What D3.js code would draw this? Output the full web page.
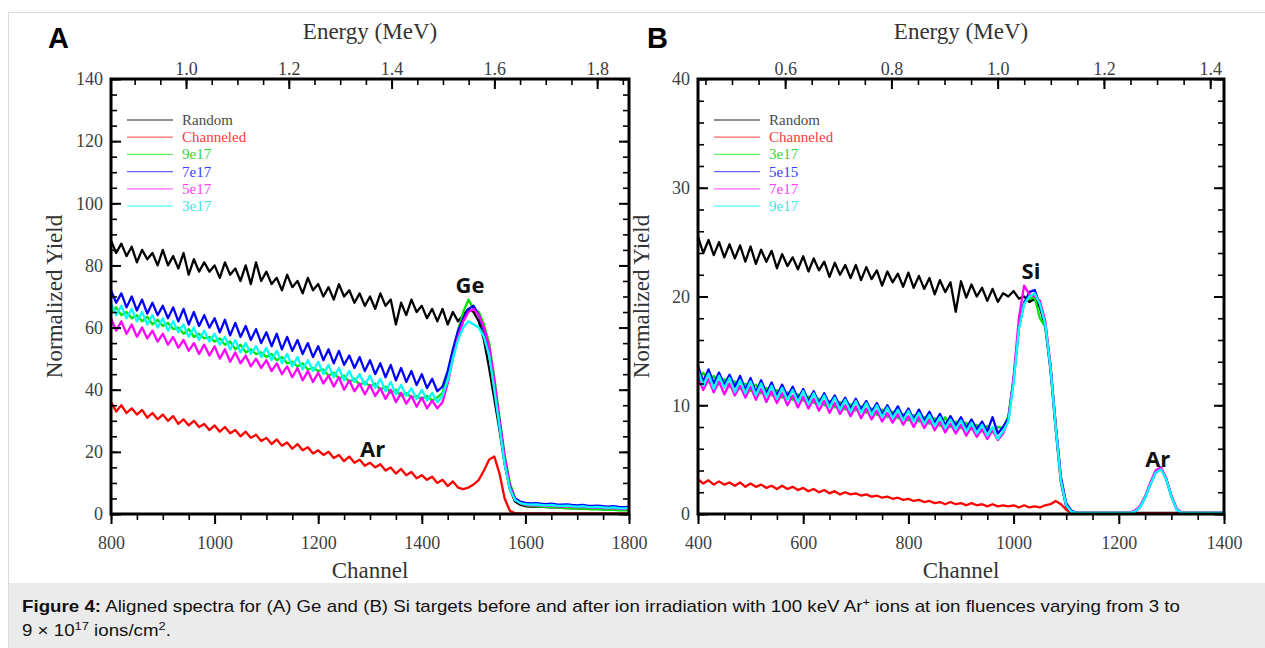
<!DOCTYPE html>
<html>
<head>
<meta charset="utf-8">
<script src="https://cdn.jsdelivr.net/npm/d3@7"></script>
<style>
  html, body { margin: 0; padding: 0; background: #fff; }
  svg { display: block; }
</style>
</head>
<body>
<svg id="fig" width="1265" height="648"></svg>
<script>
// ---- Panel A (Ge target): channels 800..1800, one value every 10 channels ----
const chStartA = 800, chStepA = 10;
const randomA = [
  88, 84, 87, 83, 86, 81, 85, 82, 84, 80,
  85, 80, 83, 79, 84, 77, 82, 78, 81, 78,
  80, 76, 81, 77, 79, 75, 80, 74, 81, 75,
  78, 74, 76, 72, 77, 73, 75, 71, 76, 72,
  74, 70, 73, 69, 74, 70, 72, 68, 71, 67,
  70, 66, 71, 67, 69, 61, 68, 64, 69, 65,
  67, 63, 66, 62, 66, 61, 65, 62, 64, 66,
  65, 62, 56, 47, 37, 27, 16, 8, 4, 3,
  2.5, 2.4, 2.3, 2.4, 2.2, 2.1, 2.2, 2.0, 1.9, 2.0,
  1.8, 1.9, 1.7, 1.8, 1.7, 1.6, 1.7, 1.5, 1.6, 1.5, 1.4];
const channeledA = [
  36, 33, 35, 32.5, 34, 32, 33.5, 31, 32.5, 30.5,
  32, 30, 31.5, 29, 30.5, 28.5, 30, 28, 29, 27,
  28.5, 26.5, 28, 26, 27, 25, 26.5, 24.5, 25.5, 23.5,
  24.5, 22.5, 24, 22, 23, 21, 22.5, 20.5, 21.5, 19.5,
  20.5, 19, 20, 18, 19, 17, 18.5, 16.5, 17.5, 15.5,
  16.5, 15, 16, 14, 15, 13, 14.5, 12.5, 13.5, 11.5,
  12.5, 11, 12, 10, 11, 9, 10.5, 8.5, 8, 8.5,
  9.5, 11, 14, 17.5, 18.5, 13, 5, 1, 0.2, 0.2,
  0.2, 0.2, 0.2, 0.2, 0.2, 0.2, 0.2, 0.2, 0.2, 0.2,
  0.2, 0.2, 0.2, 0.2, 0.2, 0.2, 0.2, 0.2, 0.2, 0.2, 0.2];
const ge9e17 = [
  65, 66.5, 64, 65, 63, 64, 62, 63.5, 61, 62.5,
  60.5, 61.5, 59.5, 60, 58, 59.5, 57, 58, 56.5, 57,
  55.5, 56.5, 54.5, 55.5, 53, 54.5, 52, 53, 51.5, 52,
  50.5, 51.5, 49.5, 50.5, 48.5, 49, 47.5, 48.5, 46.5, 47,
  46, 46.5, 44.5, 45.5, 43.5, 44.5, 42.5, 43.5, 41.5, 42.5,
  41, 42, 40, 41, 39, 40, 38, 39, 37.5, 38,
  37, 38, 36.5, 37.5, 39, 45, 52, 59, 65, 69,
  66, 65, 61, 55, 44, 31, 19, 10, 5, 3.5,
  2.8, 2.6, 2.5, 2.4, 2.3, 2.2, 2.1, 2.0, 1.9, 1.8,
  1.7, 1.7, 1.6, 1.5, 1.5, 1.4, 1.3, 1.3, 1.2, 1.2, 1.1];
const ge7e17 = [
  72, 68, 71, 66.5, 70, 65.5, 69, 64.5, 68, 64,
  67, 63, 66.5, 62, 66, 61, 65, 60.5, 64, 60,
  63, 58.5, 62.5, 57.5, 61.5, 57, 60.5, 56, 59.5, 55,
  58.5, 54, 58, 53, 57, 52.5, 56, 51.5, 55, 50.5,
  54, 49.5, 53, 48.5, 52.5, 48, 51, 47, 50.5, 46,
  49.5, 45, 48.5, 44, 48, 43, 47, 42.5, 46, 41.5,
  45, 40.5, 43.5, 39.5, 41, 46, 53, 59, 63, 66,
  67, 64, 59, 53, 42, 30, 18, 9, 5, 4,
  3.6, 3.4, 3.5, 3.3, 3.2, 3.3, 3.1, 3.0, 3.1, 2.9,
  2.8, 2.9, 2.7, 2.6, 2.7, 2.5, 2.4, 2.5, 2.3, 2.2, 2.3];
const ge5e17 = [
  63, 59, 62, 58, 61, 57, 60, 56.5, 59, 55.5,
  58, 54.5, 57, 53.5, 56, 52.5, 55, 51.5, 54.5, 51,
  54, 50, 53, 49, 52, 48.5, 51, 47.5, 50, 47,
  49.5, 46, 48.5, 45, 47.5, 44, 47, 43, 46, 42.5,
  45.5, 42, 44.5, 41, 44, 40, 43, 39.5, 42, 38.5,
  41.5, 38, 40.5, 37, 40, 36, 39, 35.5, 38, 34.5,
  37.5, 34, 36.5, 34, 36, 42, 50, 57, 62, 65,
  66, 64, 60, 54, 43, 30, 18, 9, 4.5, 3.5,
  3.0, 2.8, 2.9, 2.7, 2.6, 2.7, 2.5, 2.4, 2.5, 2.3,
  2.2, 2.3, 2.1, 2.0, 2.1, 1.9, 1.8, 1.9, 1.7, 1.6, 1.7];
const ge3e17 = [
  68, 64, 67, 63, 66, 62, 65, 61, 64, 60,
  63, 59, 62, 58.5, 61, 57, 60, 56, 59, 55.5,
  58, 54.5, 57, 53, 56, 52, 55, 51.5, 54, 50.5,
  53.5, 49.5, 52.5, 48.5, 51.5, 47.5, 50.5, 46.5, 49.5, 46,
  49, 45, 48, 44, 47, 43, 46, 42.5, 45, 41.5,
  44.5, 40.5, 43.5, 39.5, 42.5, 38.5, 41.5, 38, 40.5, 37,
  40, 36.5, 39, 36, 38, 43, 50, 56, 60, 62,
  61, 60, 57, 51, 40, 28, 16, 8, 4.5, 3.5,
  3.2, 3.0, 3.1, 2.9, 2.8, 2.9, 2.7, 2.6, 2.7, 2.5,
  2.4, 2.5, 2.3, 2.2, 2.3, 2.1, 2.0, 2.1, 1.9, 1.8, 1.9];

// ---- Panel B (Si target): channels 400..1400, one value every 10 channels ----
const chStartB = 400, chStepB = 10;
const randomB = [
  25.5, 24, 25.2, 23.8, 25, 23.6, 24.8, 23.5, 24.7, 23.2,
  24.6, 23, 24.3, 23.2, 24.2, 22.6, 23.9, 22.8, 23.6, 22.5,
  23.7, 22.3, 23.5, 22.4, 23.2, 21.8, 23.1, 22, 22.9, 21.7,
  22.9, 21.5, 22.7, 21.6, 22.4, 21, 22.3, 21.3, 22.1, 20.9,
  22.2, 20.8, 21.9, 20.7, 21.7, 20.2, 21.5, 20.4, 21.3, 18.6,
  21.4, 19.9, 21.1, 20, 20.8, 19.6, 20.7, 19.5, 20.3, 20,
  20.5, 19.8, 20, 19.5, 19.8, 19, 17.3, 13.3, 7.8, 2.9,
  0.7, 0.1, 0.1, 0.1, 0.1, 0.1, 0.1, 0.1, 0.1, 0.1,
  0.1, 0.1, 0.1, 0.1, 0.1, 0.1, 0.1, 0.1, 0.1, 0.1,
  0.1, 0.1, 0.1, 0.1, 0.1, 0.1, 0.1, 0.1, 0.1, 0.1, 0.1];
const channeledB = [
  3.2, 2.8, 3.1, 2.7, 3.0, 2.7, 2.9, 2.6, 2.9, 2.5,
  2.8, 2.5, 2.7, 2.4, 2.6, 2.3, 2.6, 2.3, 2.5, 2.2,
  2.4, 2.1, 2.3, 2.0, 2.2, 1.9, 2.1, 1.8, 2.0, 1.8,
  1.9, 1.7, 1.8, 1.6, 1.7, 1.5, 1.6, 1.4, 1.5, 1.3,
  1.4, 1.2, 1.3, 1.1, 1.2, 1.0, 1.1, 0.9, 1.1, 0.9,
  1.0, 0.8, 1.0, 0.8, 0.9, 0.7, 0.9, 0.7, 0.8, 0.7,
  0.8, 0.6, 0.8, 0.6, 0.7, 0.6, 0.8, 0.9, 1.2, 0.9,
  0.4, 0.1, 0.05, 0.05, 0.05, 0.05, 0.05, 0.05, 0.05, 0.05,
  0.05, 0.05, 0.05, 0.05, 0.05, 0.05, 0.05, 0.05, 0.05, 0.05,
  0.05, 0.05, 0.05, 0.05, 0.05, 0.05, 0.05, 0.05, 0.05, 0.05, 0.05];
const si3e17 = [
  12.4, 13.0, 12.1, 12.7, 11.9, 12.4, 11.7, 12.2, 11.5, 12.0,
  11.3, 11.9, 11.1, 11.6, 10.9, 11.4, 10.7, 11.2, 10.5, 11.0,
  10.4, 10.8, 10.2, 10.6, 10.0, 10.4, 9.8, 10.3, 9.6, 10.1,
  9.5, 9.9, 9.3, 9.7, 9.1, 9.6, 8.9, 9.4, 8.8, 9.2,
  8.6, 9.1, 8.5, 8.9, 8.3, 8.8, 8.1, 8.9, 8.0, 8.5,
  7.9, 8.4, 7.8, 8.2, 7.6, 8.1, 7.5, 8.0, 7.9, 9.0,
  12.5, 17.2, 19.5, 19.8, 19.9, 18.0, 17.2, 13.8, 8.3, 3.2,
  0.9, 0.2, 0.1, 0.1, 0.1, 0.1, 0.1, 0.1, 0.1, 0.1,
  0.1, 0.1, 0.1, 0.2, 0.7, 1.6, 2.8, 3.9, 4.2, 3.3,
  1.7, 0.5, 0.1, 0.1, 0.1, 0.1, 0.1, 0.1, 0.1, 0.1, 0.1];
const si5e15 = [
  13.6, 12.2, 13.3, 12.0, 13.0, 11.9, 12.8, 11.7, 12.7, 11.4,
  12.5, 11.2, 12.3, 11.1, 12.1, 10.9, 11.9, 10.8, 11.7, 10.6,
  11.5, 10.4, 11.3, 10.2, 11.1, 10.1, 10.9, 9.9, 10.7, 9.7,
  10.6, 9.6, 10.4, 9.4, 10.2, 9.2, 10.0, 9.1, 9.9, 8.9,
  9.7, 8.7, 9.6, 8.6, 9.4, 8.4, 9.2, 8.2, 9.0, 8.1,
  8.9, 7.9, 8.7, 7.8, 8.5, 7.6, 8.9, 7.4, 8.0, 8.8,
  12.3, 17.1, 19.4, 20.4, 20.6, 19.2, 17.6, 13.6, 8.2, 3.4,
  1.0, 0.3, 0.1, 0.1, 0.1, 0.1, 0.1, 0.1, 0.1, 0.1,
  0.1, 0.1, 0.1, 0.2, 0.6, 1.5, 2.7, 3.8, 4.2, 3.2,
  1.6, 0.4, 0.1, 0.1, 0.1, 0.1, 0.1, 0.1, 0.1, 0.1, 0.1];
const si7e17 = [
  12.6, 11.4, 12.4, 11.2, 12.2, 11.0, 12.0, 10.9, 11.8, 10.7,
  11.7, 10.5, 11.5, 10.3, 11.3, 10.2, 11.1, 10.0, 10.9, 9.8,
  10.8, 9.7, 10.6, 9.5, 10.4, 9.3, 10.2, 9.2, 10.0, 9.0,
  9.9, 8.8, 9.7, 8.7, 9.5, 8.5, 9.3, 8.4, 9.2, 8.2,
  9.0, 8.0, 8.9, 7.9, 8.7, 7.7, 8.5, 7.5, 8.3, 7.4,
  8.2, 7.2, 8.0, 7.1, 7.8, 6.9, 7.7, 6.8, 7.4, 8.6,
  12.6, 18.0, 21.0, 20.2, 20.0, 19.6, 17.8, 13.7, 8.1, 3.1,
  0.8, 0.2, 0.1, 0.1, 0.1, 0.1, 0.1, 0.1, 0.1, 0.1,
  0.1, 0.1, 0.1, 0.3, 0.7, 1.6, 2.9, 4.0, 4.3, 3.3,
  1.7, 0.5, 0.1, 0.1, 0.1, 0.1, 0.1, 0.1, 0.1, 0.1, 0.1];
const si9e17 = [
  13.2, 11.8, 12.9, 11.5, 12.7, 11.6, 12.5, 11.2, 12.3, 11.1,
  12.2, 10.9, 12.0, 10.8, 11.8, 10.6, 11.6, 10.5, 11.4, 10.3,
  11.3, 10.1, 11.1, 10.0, 10.9, 9.8, 10.7, 9.6, 10.5, 9.4,
  10.4, 9.3, 10.2, 9.1, 10.0, 8.9, 9.8, 8.8, 9.6, 8.6,
  9.5, 8.5, 9.3, 8.3, 9.1, 8.1, 8.9, 7.9, 8.7, 7.8,
  8.6, 7.6, 8.4, 7.4, 8.2, 7.2, 8.0, 6.9, 7.6, 8.5,
  12, 17, 19.3, 20, 20.3, 19.3, 17.5, 13.5, 8, 3,
  0.8, 0.2, 0.1, 0.1, 0.1, 0.1, 0.1, 0.1, 0.1, 0.1,
  0.1, 0.1, 0.1, 0.2, 0.6, 1.5, 2.7, 3.8, 4.1, 3.2,
  1.6, 0.4, 0.1, 0.1, 0.1, 0.1, 0.1, 0.1, 0.1, 0.1, 0.1];

// ---- axes, ticks and labels ----
const chTicksA = [800, 1000, 1200, 1400, 1600, 1800];
const yTicksA = [0, 20, 40, 60, 80, 100, 120, 140];
const eTicksA = [1.0, 1.2, 1.4, 1.6, 1.8];
const eDomainA = [0.854, 1.862];   // energy at channel 800 and 1800
const chTicksB = [400, 600, 800, 1000, 1200, 1400];
const yTicksB = [0, 10, 20, 30, 40];
const eTicksB = [0.6, 0.8, 1.0, 1.2, 1.4];
const eDomainB = [0.436, 1.426];   // energy at channel 400 and 1400

const legendA = ['Random', 'Channeled', '9e17', '7e17', '5e17', '3e17'];
const legendB = ['Random', 'Channeled', '3e17', '5e15', '7e17', '9e17'];
const peakLabelsA = [{ text: 'Ge', ch: 1493, v: 71 }, { text: 'Ar', ch: 1305, v: 18.5 }];
const peakLabelsB = [{ text: 'Si', ch: 1033, v: 21.6 }, { text: 'Ar', ch: 1274, v: 4.3 }];

const lineColors = ['#000000', '#ff0000', '#00e400', '#0000ff', '#ff00ff', '#00ffff'];
const textColors = ['#4a4a4a', '#ff3a3a', '#36d636', '#3a3aff', '#ff3aff', '#36e6e6'];

const serif = "'Liberation Serif', 'Times New Roman', serif";
const sans = "'Liberation Sans', Arial, sans-serif";
const svg = d3.select('#fig');

// page frame + caption box
svg.append('rect').attr('x', 8).attr('y', 583).attr('width', 1257).attr('height', 65).attr('fill', '#ebebeb');
svg.append('line').attr('x1', 8).attr('x2', 1265).attr('y1', 12.5).attr('y2', 12.5).attr('stroke', '#dcdcdc');
svg.append('line').attr('x1', 8.5).attr('x2', 8.5).attr('y1', 12).attr('y2', 648).attr('stroke', '#dcdcdc');

function drawPanel(p) {
    const box = p.box;
    const x = d3.scaleLinear().domain(p.chDomain).range([box.l, box.r]);
    const y = d3.scaleLinear().domain(p.yDomain).range([box.b, box.t]);
    const e = d3.scaleLinear().domain(p.eDomain).range([box.l, box.r]);

    const g = svg.append('g');
    const clipId = 'clip' + p.key;
    svg.append('clipPath').attr('id', clipId).append('rect')
        .attr('x', box.l).attr('y', box.t)
        .attr('width', box.r - box.l).attr('height', box.b - box.t);

    // spectra
    const line = d3.line()
        .x(function (d, i) { return x(p.chStart + p.chStep * i); })
        .y(function (d) { return y(d); });
    const traces = g.append('g').attr('clip-path', 'url(#' + clipId + ')');
    p.series.forEach(function (s, k) {
        traces.append('path').datum(s)
            .attr('d', line)
            .attr('fill', 'none')
            .attr('stroke', lineColors[k])
            .attr('stroke-width', 2.3)
            .attr('stroke-linejoin', 'round');
    });

    // minor tick values
    const chMinor = d3.range(p.chDomain[0], p.chDomain[1] + 1, 50);
    const yMinor = d3.range(p.yDomain[0], p.yDomain[1] + 0.001, p.yMinorStep);
    const eMinor = d3.range(Math.ceil(p.eDomain[0] / 0.05) * 0.05, p.eDomain[1], 0.05);

    function styleAx(ax, w) {
        ax.select('.domain').remove();
        ax.selectAll('line').attr('stroke', '#000').attr('stroke-width', w);
        ax.selectAll('text').attr('fill', '#404040')
            .attr('font-family', serif).attr('font-size', 18);
    }

    // bottom: outward ticks
    styleAx(g.append('g').attr('transform', 'translate(0,' + box.b + ')')
        .call(d3.axisBottom(x).tickValues(chMinor).tickSize(6).tickFormat('')), 1.6);
    const xb = g.append('g').attr('transform', 'translate(0,' + box.b + ')')
        .call(d3.axisBottom(x).tickValues(p.chTicks).tickSize(10).tickPadding(12).tickFormat(d3.format('d')));
    styleAx(xb, 2);

    // left: inward ticks
    styleAx(g.append('g').attr('transform', 'translate(' + box.l + ',0)')
        .call(d3.axisLeft(y).tickValues(yMinor).tickSize(-6).tickFormat('')), 1.6);
    const yl = g.append('g').attr('transform', 'translate(' + box.l + ',0)')
        .call(d3.axisLeft(y).tickValues(p.yTicks).tickSize(-10).tickPadding(8).tickFormat(d3.format('d')));
    styleAx(yl, 2);

    // right: inward ticks, no labels
    styleAx(g.append('g').attr('transform', 'translate(' + box.r + ',0)')
        .call(d3.axisRight(y).tickValues(yMinor).tickSize(-6).tickFormat('')), 1.6);
    styleAx(g.append('g').attr('transform', 'translate(' + box.r + ',0)')
        .call(d3.axisRight(y).tickValues(p.yTicks).tickSize(-10).tickFormat('')), 2);

    // top: energy axis, inward ticks
    styleAx(g.append('g').attr('transform', 'translate(0,' + box.t + ')')
        .call(d3.axisTop(e).tickValues(eMinor).tickSize(-6).tickFormat('')), 1.6);
    const xt = g.append('g').attr('transform', 'translate(0,' + box.t + ')')
        .call(d3.axisTop(e).tickValues(p.eTicks).tickSize(-10).tickPadding(4).tickFormat(d3.format('.1f')));
    styleAx(xt, 2);

    // frame
    g.append('rect')
        .attr('x', box.l).attr('y', box.t)
        .attr('width', box.r - box.l).attr('height', box.b - box.t)
        .attr('fill', 'none').attr('stroke', '#000').attr('stroke-width', 3);

    // axis titles
    const cx = (box.l + box.r) / 2, cy = (box.t + box.b) / 2;
    g.append('text').attr('x', cx).attr('y', 39).attr('text-anchor', 'middle')
        .attr('font-family', serif).attr('font-size', 23).attr('fill', '#333').text('Energy (MeV)');
    g.append('text').attr('x', cx).attr('y', 578).attr('text-anchor', 'middle')
        .attr('font-family', serif).attr('font-size', 23).attr('fill', '#333').text('Channel');
    g.append('text').attr('transform', 'translate(' + (box.l - 49) + ',' + cy + ') rotate(-90)')
        .attr('text-anchor', 'middle')
        .attr('font-family', serif).attr('font-size', 23).attr('fill', '#333').text('Normalized Yield');

    // panel letter
    g.append('text').attr('x', p.letterX).attr('y', 48)
        .attr('font-family', sans).attr('font-weight', 'bold').attr('font-size', 29)
        .attr('fill', '#000').text(p.key);

    // legend
    const lg = g.append('g');
    p.legend.forEach(function (name, k) {
        const ly = 120 + k * 17.2;
        lg.append('line')
            .attr('x1', box.l + 16).attr('x2', box.l + 62)
            .attr('y1', ly).attr('y2', ly)
            .attr('stroke', lineColors[k]).attr('stroke-opacity', 0.6).attr('stroke-width', 1.3);
        lg.append('text').attr('x', box.l + 71).attr('y', ly + 5)
            .attr('font-family', serif).attr('font-size', 15)
            .attr('fill', textColors[k]).text(name);
    });

    // peak labels
    p.peaks.forEach(function (pk) {
        g.append('text').attr('x', x(pk.ch)).attr('y', y(pk.v))
            .attr('text-anchor', 'middle')
            .attr('font-family', "'Open Sans', sans-serif").attr('font-weight', 'bold')
            .attr('font-size', 22).attr('fill', '#111').text(pk.text);
    });
}

drawPanel({
    key: 'A', letterX: 48,
    box: { l: 111, r: 629, t: 79, b: 514 },
    chDomain: [800, 1800], yDomain: [0, 140], eDomain: eDomainA,
    chTicks: chTicksA, yTicks: yTicksA, eTicks: eTicksA, yMinorStep: 5,
    chStart: chStartA, chStep: chStepA,
    series: [randomA, channeledA, ge9e17, ge7e17, ge5e17, ge3e17],
    legend: legendA, peaks: peakLabelsA
});
drawPanel({
    key: 'B', letterX: 647,
    box: { l: 698, r: 1224, t: 79, b: 514 },
    chDomain: [400, 1400], yDomain: [0, 40], eDomain: eDomainB,
    chTicks: chTicksB, yTicks: yTicksB, eTicks: eTicksB, yMinorStep: 2,
    chStart: chStartB, chStep: chStepB,
    series: [randomB, channeledB, si3e17, si5e15, si7e17, si9e17],
    legend: legendB, peaks: peakLabelsB
});

// caption (the source figure is slightly stretched horizontally)
const cap = svg.append('text')
    .attr('transform', 'translate(22,0) scale(1.17,1)')
    .attr('font-family', sans).attr('font-size', 16).attr('fill', '#111');
const l1 = cap.append('tspan').attr('x', 0).attr('y', 612);
l1.append('tspan').attr('font-weight', 'bold').text('Figure 4:');
l1.append('tspan').text(' Aligned spectra for (A) Ge and (B) Si targets before and after ion irradiation with 100 keV Ar');
l1.append('tspan').attr('font-size', 11).attr('dy', -6).text('+');
l1.append('tspan').attr('dy', 6).text(' ions at ion fluences varying from 3 to');
const l2 = cap.append('tspan').attr('x', 0).attr('y', 636);
l2.append('tspan').text('9 \u00d7 10');
l2.append('tspan').attr('font-size', 11).attr('dy', -6).text('17');
l2.append('tspan').attr('dy', 6).text(' ions/cm');
l2.append('tspan').attr('font-size', 11).attr('dy', -6).text('2');
l2.append('tspan').attr('dy', 6).text('.');
</script>
</body>
</html>
